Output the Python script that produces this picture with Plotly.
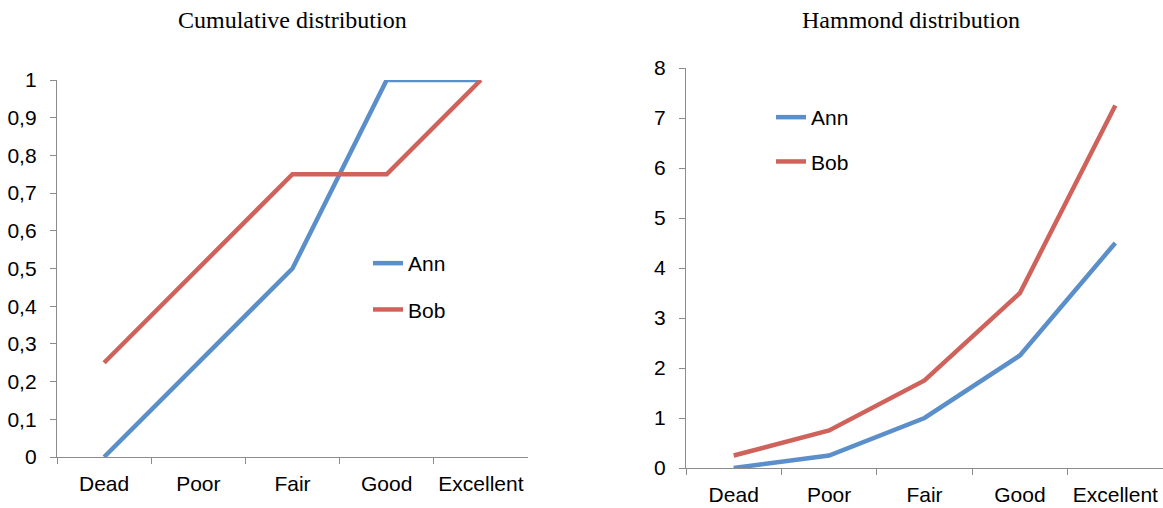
import plotly.graph_objects as go

categories = ["Dead", "Poor", "Fair", "Good", "Excellent"]
cum_ann = [0, 0.25, 0.5, 1, 1]
cum_bob = [0.25, 0.5, 0.75, 0.75, 1]
ham_ann = [0, 0.25, 1, 2.25, 4.5]
ham_bob = [0.25, 0.75, 1.75, 3.5, 7.25]
titles = ["Cumulative distribution", "Hammond distribution"]

W, H = 1163, 508
BLUE = "#5B8FCA"
RED = "#CF635B"
AX = "#8C8C8C"
SANS = "Liberation Sans, Arial, sans-serif"
SERIF = "Liberation Serif, Times New Roman, serif"

fig = go.Figure()
fig.add_trace(go.Scatter(x=categories, y=cum_ann, name="Ann", mode="lines",
                         line=dict(color=BLUE, width=4.5), xaxis="x", yaxis="y",
                         legend="legend", legendgroup="a"))
fig.add_trace(go.Scatter(x=categories, y=cum_bob, name="Bob", mode="lines",
                         line=dict(color=RED, width=4.5), xaxis="x", yaxis="y",
                         legend="legend", legendgroup="b"))
fig.add_trace(go.Scatter(x=categories, y=ham_ann, name="Ann", mode="lines",
                         line=dict(color=BLUE, width=4.5), xaxis="x2", yaxis="y2",
                         legend="legend2", legendgroup="a2"))
fig.add_trace(go.Scatter(x=categories, y=ham_bob, name="Bob", mode="lines",
                         line=dict(color=RED, width=4.5), xaxis="x2", yaxis="y2",
                         legend="legend2", legendgroup="b2"))

xcommon = dict(type="category", range=[-0.5, 4.5], showline=True, linecolor=AX,
               linewidth=1.3, ticks="outside", tickson="boundaries", ticklen=6,
               tickcolor=AX, tickwidth=1.3, showgrid=False, zeroline=False,
               tickfont=dict(family=SANS, size=21, color="#000"), tickangle=0,
               ticklabelstandoff=8, automargin=False, fixedrange=True)
ycommon = dict(showline=True, linecolor=AX, linewidth=1.3, ticks="outside",
               ticklen=6, tickcolor=AX, tickwidth=1.3, showgrid=False,
               zeroline=False, tickfont=dict(family=SANS, size=21, color="#000"),
               ticklabelstandoff=9, automargin=False, fixedrange=True)

legfont = dict(family=SANS, size=21, color="#000")

fig.update_layout(
    width=W, height=H,
    margin=dict(l=0, r=0, t=0, b=0, autoexpand=False),
    paper_bgcolor="white", plot_bgcolor="white",
    separators=", ",
    xaxis=dict(domain=[57 / W, 528 / W], anchor="y", **xcommon),
    yaxis=dict(domain=[(H - 457) / H, (H - 80) / H], anchor="x",
               range=[0, 1], dtick=0.1, **ycommon),
    xaxis2=dict(domain=[686 / W, 1.0], anchor="y2", **xcommon),
    yaxis2=dict(domain=[(H - 468) / H, (H - 68) / H], anchor="x2",
                range=[0, 8], dtick=1, **ycommon),
    legend=dict(x=368 / W, y=(H - 243) / H, font=legfont, xanchor="left",
                yanchor="top", bgcolor="rgba(0,0,0,0)", traceorder="grouped",
                tracegroupgap=16),
    legend2=dict(x=771 / W, y=(H - 97) / H, font=legfont, xanchor="left",
                 yanchor="top", bgcolor="rgba(0,0,0,0)", traceorder="grouped",
                 tracegroupgap=14),
    showlegend=True,
    annotations=[
        dict(text=titles[0], x=292 / W, y=(H - 20) / H, xref="paper", yref="paper",
             xanchor="center", yanchor="middle", showarrow=False,
             font=dict(family=SERIF, size=24, color="#000")),
        dict(text=titles[1], x=910.5 / W, y=(H - 20) / H, xref="paper", yref="paper",
             xanchor="center", yanchor="middle", showarrow=False,
             font=dict(family=SERIF, size=24, color="#000")),
    ],
)

fig.write_html(
    "out.html",
    config={"displayModeBar": False},
    post_script="document.body.style.margin='0';document.body.style.overflow='hidden';",
)
